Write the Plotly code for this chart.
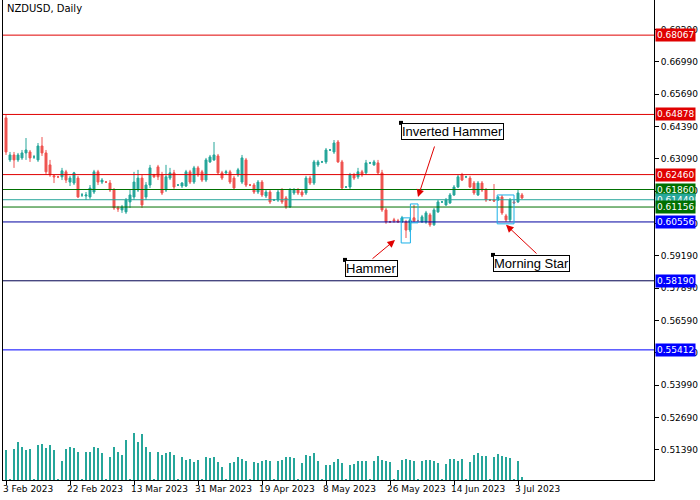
import plotly.graph_objects as go

# NZDUSD daily bars (6 per week incl. Sunday), 3 Feb 2023 .. 4 Jul 2023
OPEN = [.6474,.6305,.6325,.6305,.6313,.6333,.6337,.6317,.6305,.6361,
        .6333,.6285,.6241,.6237,.6237,.6257,.6216,.6212,.6232,.6164,
        .6160,.6156,.6176,.6257,.6216,.6216,.6212,.6184,.6112,.6104,
        .6096,.6136,.6156,.6184,.6232,.6156,.6204,.6245,.6277,.6245,
        .6184,.6232,.6253,.6204,.6200,.6200,.6257,.6216,.6273,.6257,
        .6224,.6297,.6305,.6321,.6253,.6253,.6257,.6232,.6245,.6216,
        .6305,.6204,.6204,.6176,.6216,.6160,.6176,.6144,.6144,.6184,
        .6152,.6116,.6172,.6184,.6176,.6172,.6232,.6212,.6285,.6297,
        .6297,.6345,.6337,.6377,.6297,.6196,.6196,.6245,.6237,.6257,
        .6253,.6293,.6285,.6293,.6253,.6104,.6056,.6064,.6060,.6056,
        .6056,.6023,.6072,.6060,.6056,.6056,.6084,.6044,.6096,.6136,
        .6124,.6132,.6164,.6196,.6245,.6237,.6232,.6212,.6164,.6212,
        .6184,.6144,.6144,.6144,.6156,.6080,.6064,.6136,.6136,.6164]
CLOSE = [.6337,.6325,.6305,.6325,.6333,.6345,.6313,.6317,.6361,.6333,
         .6257,.6245,.6237,.6237,.6261,.6224,.6232,.6253,.6156,.6164,
         .6164,.6192,.6257,.6216,.6224,.6216,.6184,.6112,.6108,.6116,
         .6144,.6164,.6216,.6232,.6124,.6204,.6273,.6237,.6237,.6172,
         .6237,.6253,.6196,.6204,.6212,.6257,.6216,.6273,.6245,.6224,
         .6305,.6317,.6325,.6253,.6232,.6257,.6216,.6192,.6265,.6313,
         .6204,.6204,.6176,.6216,.6164,.6176,.6136,.6144,.6176,.6136,
         .6116,.6184,.6184,.6172,.6164,.6232,.6212,.6297,.6297,.6297,
         .6345,.6345,.6373,.6297,.6192,.6196,.6245,.6232,.6257,.6245,
         .6293,.6293,.6297,.6253,.6104,.6056,.6056,.6060,.6056,.6072,
         .6023,.6064,.6060,.6060,.6076,.6092,.6044,.6104,.6136,.6136,
         .6144,.6164,.6196,.6237,.6224,.6237,.6196,.6172,.6212,.6184,
         .6144,.6144,.6140,.6156,.6092,.6064,.6144,.6132,.6172,.6152]
HIGH = [.6486,.6337,.6337,.6333,.6345,.6393,.6345,.6325,.6373,.6397,
        .6345,.6305,.6245,.6241,.6273,.6265,.6241,.6257,.6241,.6172,
        .6176,.6204,.6265,.6265,.6232,.6220,.6224,.6192,.6120,.6124,
        .6152,.6184,.6257,.6265,.6245,.6216,.6285,.6249,.6285,.6257,
        .6285,.6273,.6265,.6208,.6216,.6265,.6265,.6281,.6281,.6265,
        .6313,.6325,.6377,.6329,.6261,.6265,.6265,.6241,.6273,.6325,
        .6313,.6208,.6212,.6224,.6224,.6184,.6184,.6148,.6184,.6192,
        .6160,.6192,.6192,.6192,.6184,.6241,.6241,.6305,.6305,.6301,
        .6353,.6349,.6385,.6385,.6305,.6200,.6253,.6253,.6273,.6265,
        .6305,.6297,.6305,.6305,.6265,.6112,.6060,.6072,.6068,.6080,
        .6064,.6072,.6124,.6064,.6084,.6100,.6092,.6112,.6144,.6140,
        .6152,.6172,.6204,.6245,.6253,.6241,.6241,.6220,.6220,.6220,
        .6192,.6148,.6208,.6160,.6164,.6088,.6152,.6144,.6184,.6172]
LOW = [.6325,.6297,.6273,.6297,.6305,.6305,.6297,.6309,.6297,.6321,
       .6245,.6237,.6212,.6232,.6224,.6212,.6200,.6204,.6152,.6156,
       .6144,.6148,.6168,.6204,.6208,.6212,.6176,.6104,.6096,.6092,
       .6088,.6112,.6144,.6176,.6112,.6144,.6192,.6232,.6224,.6164,
       .6176,.6224,.6184,.6200,.6192,.6196,.6208,.6208,.6237,.6216,
       .6216,.6293,.6301,.6245,.6224,.6245,.6208,.6184,.6237,.6208,
       .6196,.6200,.6168,.6168,.6156,.6152,.6128,.6140,.6136,.6128,
       .6108,.6112,.6164,.6164,.6156,.6164,.6204,.6204,.6277,.6293,
       .6289,.6341,.6329,.6293,.6184,.6192,.6188,.6224,.6228,.6237,
       .6245,.6289,.6281,.6245,.6096,.6048,.6052,.6052,.6052,.6052,
       .5991,.6015,.6056,.6056,.6052,.6048,.6036,.6040,.6092,.6132,
       .6120,.6128,.6160,.6192,.6220,.6232,.6192,.6164,.6160,.6176,
       .6136,.6140,.6136,.6140,.6084,.6056,.6056,.6128,.6132,.6148]
VOLUME = [90, 3, 93, 115, 100, 90, 92, 3, 105, 108, 95, 105, 90, 3,
          58, 92, 100, 95, 85, 3, 85, 85, 100, 95, 80, 3,
          70, 100, 85, 75, 120, 3, 140, 115, 138, 100, 85, 3,
          85, 75, 80, 85, 75, 3, 68, 60, 62, 55, 60, 3,
          68, 65, 70, 55, 40, 3, 50, 55, 68, 62, 58, 3,
          55, 50, 58, 60, 58, 3, 58, 60, 68, 68, 65, 3,
          52, 75, 72, 80, 58, 3, 45, 45, 55, 62, 52, 3,
          45, 48, 58, 58, 58, 3, 58, 72, 60, 58, 55, 3,
          30, 60, 62, 60, 58, 3, 58, 60, 60, 58, 52, 3,
          48, 62, 62, 58, 62, 3, 55, 75, 80, 72, 72, 3,
          68, 78, 72, 68, 65, 3, 58, 10]

TICK_LABELS = ["3 Feb 2023", "22 Feb 2023", "13 Mar 2023", "31 Mar 2023", "19 Apr 2023",
               "8 May 2023", "26 May 2023", "14 Jun 2023", "3 Jul 2023"]
PRICE_TICKS = [0.51390, 0.52690, 0.53990, 0.55290, 0.56590, 0.57890, 0.59190,
               0.60490, 0.61790, 0.63090, 0.64390, 0.65690, 0.66990, 0.68290]

# horizontal levels: (price, line colour, tag colour)
LEVELS = [(0.68067, "#e00000", "#e00000"), (0.64878, "#e00000", "#e00000"),
          (0.62460, "#e00000", "#e00000"), (0.61860, "#007000", "#007000"),
          (0.61449, "#26a69a", "#26a69a"), (0.61156, "#007000", "#007000"),
          (0.60556, "#0000a0", "#0000ff"), (0.58190, "#000050", "#0000ff"),
          (0.55412, "#0000ff", "#0000ff")]

GREEN = "#26a69a"
RED = "#ef5350"
FONT = "DejaVu Sans"
idx = list(range(len(CLOSE)))

fig = go.Figure()
fig.add_trace(go.Bar(x=idx, y=VOLUME, yaxis="y2", marker_color=GREEN,
                     width=0.3, marker_line_width=0, showlegend=False))
fig.add_trace(go.Candlestick(
    x=idx, open=OPEN, high=HIGH, low=LOW, close=CLOSE,
    increasing=dict(line=dict(color=GREEN, width=1), fillcolor=GREEN),
    decreasing=dict(line=dict(color=RED, width=1), fillcolor=RED),
    whiskerwidth=0, showlegend=False))

shapes = []
anns = []
for price, lc, tc in LEVELS:
    shapes.append(dict(type="line", xref="paper", x0=0, x1=1, yref="y", y0=price, y1=price,
                       line=dict(color=lc, width=1)))
    anns.append(dict(xref="paper", x=1, xanchor="left", xshift=1, yref="y", y=price,
                     text=f"{price:.5f}", showarrow=False, bgcolor=tc, borderpad=1,
                     font=dict(color="white", size=9, family=FONT)))

# pattern boxes
for x0, x1, y0, y1 in [(98.8, 101.1, 0.6072, 0.5971), (101.1, 103.0, 0.6128, 0.6052),
                       (122.8, 127.0, 0.6164, 0.6048)]:
    shapes.append(dict(type="rect", x0=x0, x1=x1, y0=y0, y1=y1,
                       line=dict(color="#1ab0e8", width=1)))

# labels and arrows
for text, x, y in [("Inverted Hammer", 98.75, 0.6454), ("Hammer", 84.75, 0.5903),
                   ("Morning Star", 121.75, 0.5923)]:
    anns.append(dict(x=x, y=y, xanchor="left", yanchor="top", text=text, showarrow=False,
                     bgcolor="white", bordercolor="black", borderwidth=1, borderpad=0,
                     font=dict(color="black", size=13, family="Liberation Sans")))
    shapes.append(dict(type="rect", x0=x - 0.5, x1=x + 0.5, y0=y - 0.0008, y1=y + 0.0008,
                       fillcolor="black", line=dict(width=0)))
for tx, ty, hx, hy in [(107.25, 0.6365, 103.0, 0.6156), (91.25, 0.5903, 97.25, 0.5983),
                       (133.0, 0.5923, 125.0, 0.6044)]:
    anns.append(dict(x=hx, y=hy, ax=tx, ay=ty, axref="x", ayref="y", text="",
                     showarrow=True, arrowhead=2, arrowsize=1.5, arrowwidth=1,
                     arrowcolor="#e00000"))

anns.append(dict(xref="paper", yref="paper", x=0.003, y=0.997, xanchor="left", yanchor="top",
                 text="NZDUSD, Daily", showarrow=False,
                 font=dict(size=10, color="black", family=FONT)))

fig.update_layout(
    width=700, height=500, margin=dict(l=3, r=46, t=0, b=20, autoexpand=False),
    paper_bgcolor="white", plot_bgcolor="white",
    font=dict(family=FONT, size=9, color="black"),
    shapes=shapes, annotations=anns, showlegend=False, bargap=0,
    xaxis=dict(range=[-0.75, 162], rangeslider=dict(visible=False), showgrid=False,
               tickvals=list(range(0, 129, 16)), ticktext=TICK_LABELS, tickangle=0,
               ticklabelposition="outside right", ticklabelshift=-4,
               automargin=False, ticks="outside", ticklen=4, tickcolor="black",
               showline=True, linecolor="black", mirror=True, zeroline=False),
    yaxis=dict(side="right", range=[0.5018, 0.6948], showgrid=False, tickvals=PRICE_TICKS,
               ticktext=[f"{p:.5f}" for p in PRICE_TICKS], ticks="outside", ticklen=4,
               automargin=False, tickcolor="black", showline=True, linecolor="black",
               mirror=True, zeroline=False),
    yaxis2=dict(overlaying="y", range=[0, 1440], visible=False),
)

fig.write_html("out.html", config={"displayModeBar": False},
               post_script="document.body.style.margin='0';")
